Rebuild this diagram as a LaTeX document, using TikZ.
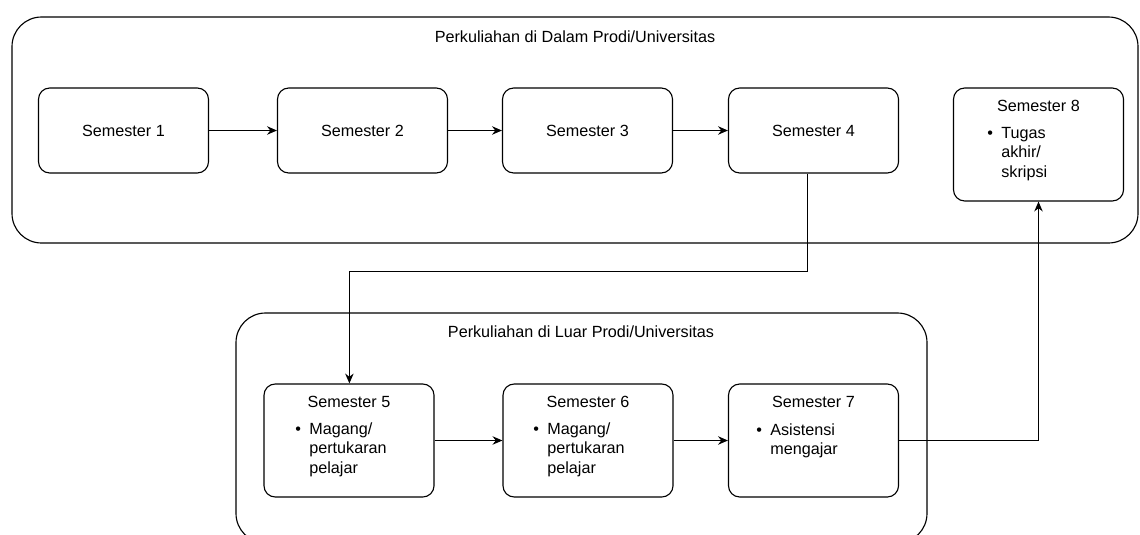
\documentclass[tikz,border=0pt]{standalone}
\usepackage{fontspec}
\setmainfont{Liberation Sans}
\usetikzlibrary{arrows.meta}

\begin{document}
\begin{tikzpicture}
            [
            x=0.025cm, y=-0.025cm,
            font=\fontsize{11.5}{14}\selectfont,
            group/.style={draw, line width=.8pt, rounded corners=21pt},
            semester/.style={draw, line width=.8pt, rounded corners=8pt,
                minimum width=4.25cm, inner sep=0pt},
            title/.style={inner sep=0pt},
            list/.style={inner sep=0pt, anchor=north west},
            link/.style={draw, line width=.8pt,
                -{Stealth[length=7pt, width=6pt]}},
            ]
            \clip (0,0) rectangle (1140,534);
            % Groups
            \draw[group] (12,17) rectangle (1138,243);
            \draw[group] (236,313) rectangle (927,543);
            \node[title] (dalam) at (575,37) {Perkuliahan di Dalam Prodi/Universitas};
            \node[title] (luar) at (581,332) {Perkuliahan di Luar Prodi/Universitas};

            % Semesters inside
            \node[semester, minimum height=2.125cm] (sem1) at (123.5,130.5) {Semester 1};
            \node[semester, minimum height=2.125cm] (sem2) at (362.5,130.5) {Semester 2};
            \node[semester, minimum height=2.125cm] (sem3) at (587.5,130.5) {Semester 3};
            \node[semester, minimum height=2.125cm] (sem4) at (813.5,130.5) {Semester 4};
            \node[semester, minimum height=2.825cm] (sem8) at (1038.5,144.5) {};
            \node[title] (sem8title) at (1038.5,106) {Semester 8};
            \node[list] (sem8list) at (987,124)
                {\begin{tabular}{@{}l@{\hspace{6pt}}l@{}}\textbullet & Tugas\\ & akhir/\\ & skripsi\end{tabular}};

            % Semesters outside
            \node[semester, minimum height=2.825cm] (sem5) at (349,440.5) {};
            \node[semester, minimum height=2.825cm] (sem6) at (588,440.5) {};
            \node[semester, minimum height=2.825cm] (sem7) at (813.5,440.5) {};
            \node[title] (sem5title) at (349,402) {Semester 5};
            \node[title] (sem6title) at (588,402) {Semester 6};
            \node[title] (sem7title) at (813.5,402) {Semester 7};
            \node[list] (sem5list) at (295,420)
                {\begin{tabular}{@{}l@{\hspace{6pt}}l@{}}\textbullet & Magang/\\ & pertukaran\\ & pelajar\end{tabular}};
            \node[list] (sem6list) at (533,420)
                {\begin{tabular}{@{}l@{\hspace{6pt}}l@{}}\textbullet & Magang/\\ & pertukaran\\ & pelajar\end{tabular}};
            \node[list] (sem7list) at (756,421)
                {\begin{tabular}{@{}l@{\hspace{6pt}}l@{}}\textbullet & Asistensi\\ & mengajar\end{tabular}};

            % Arrows
            \draw[link] (sem1) -- (sem2);
            \draw[link] (sem2) -- (sem3);
            \draw[link] (sem3) -- (sem4);
            \draw[link] ([xshift=-0.16cm]sem4.south) -- ++(0,98) -| ([xshift=0.01cm]sem5.north);
            \draw[link] (sem5) -- (sem6);
            \draw[link] (sem6) -- (sem7);
            \draw[link] (sem7.east) -| (sem8.south);
        \end{tikzpicture}
\end{document}
